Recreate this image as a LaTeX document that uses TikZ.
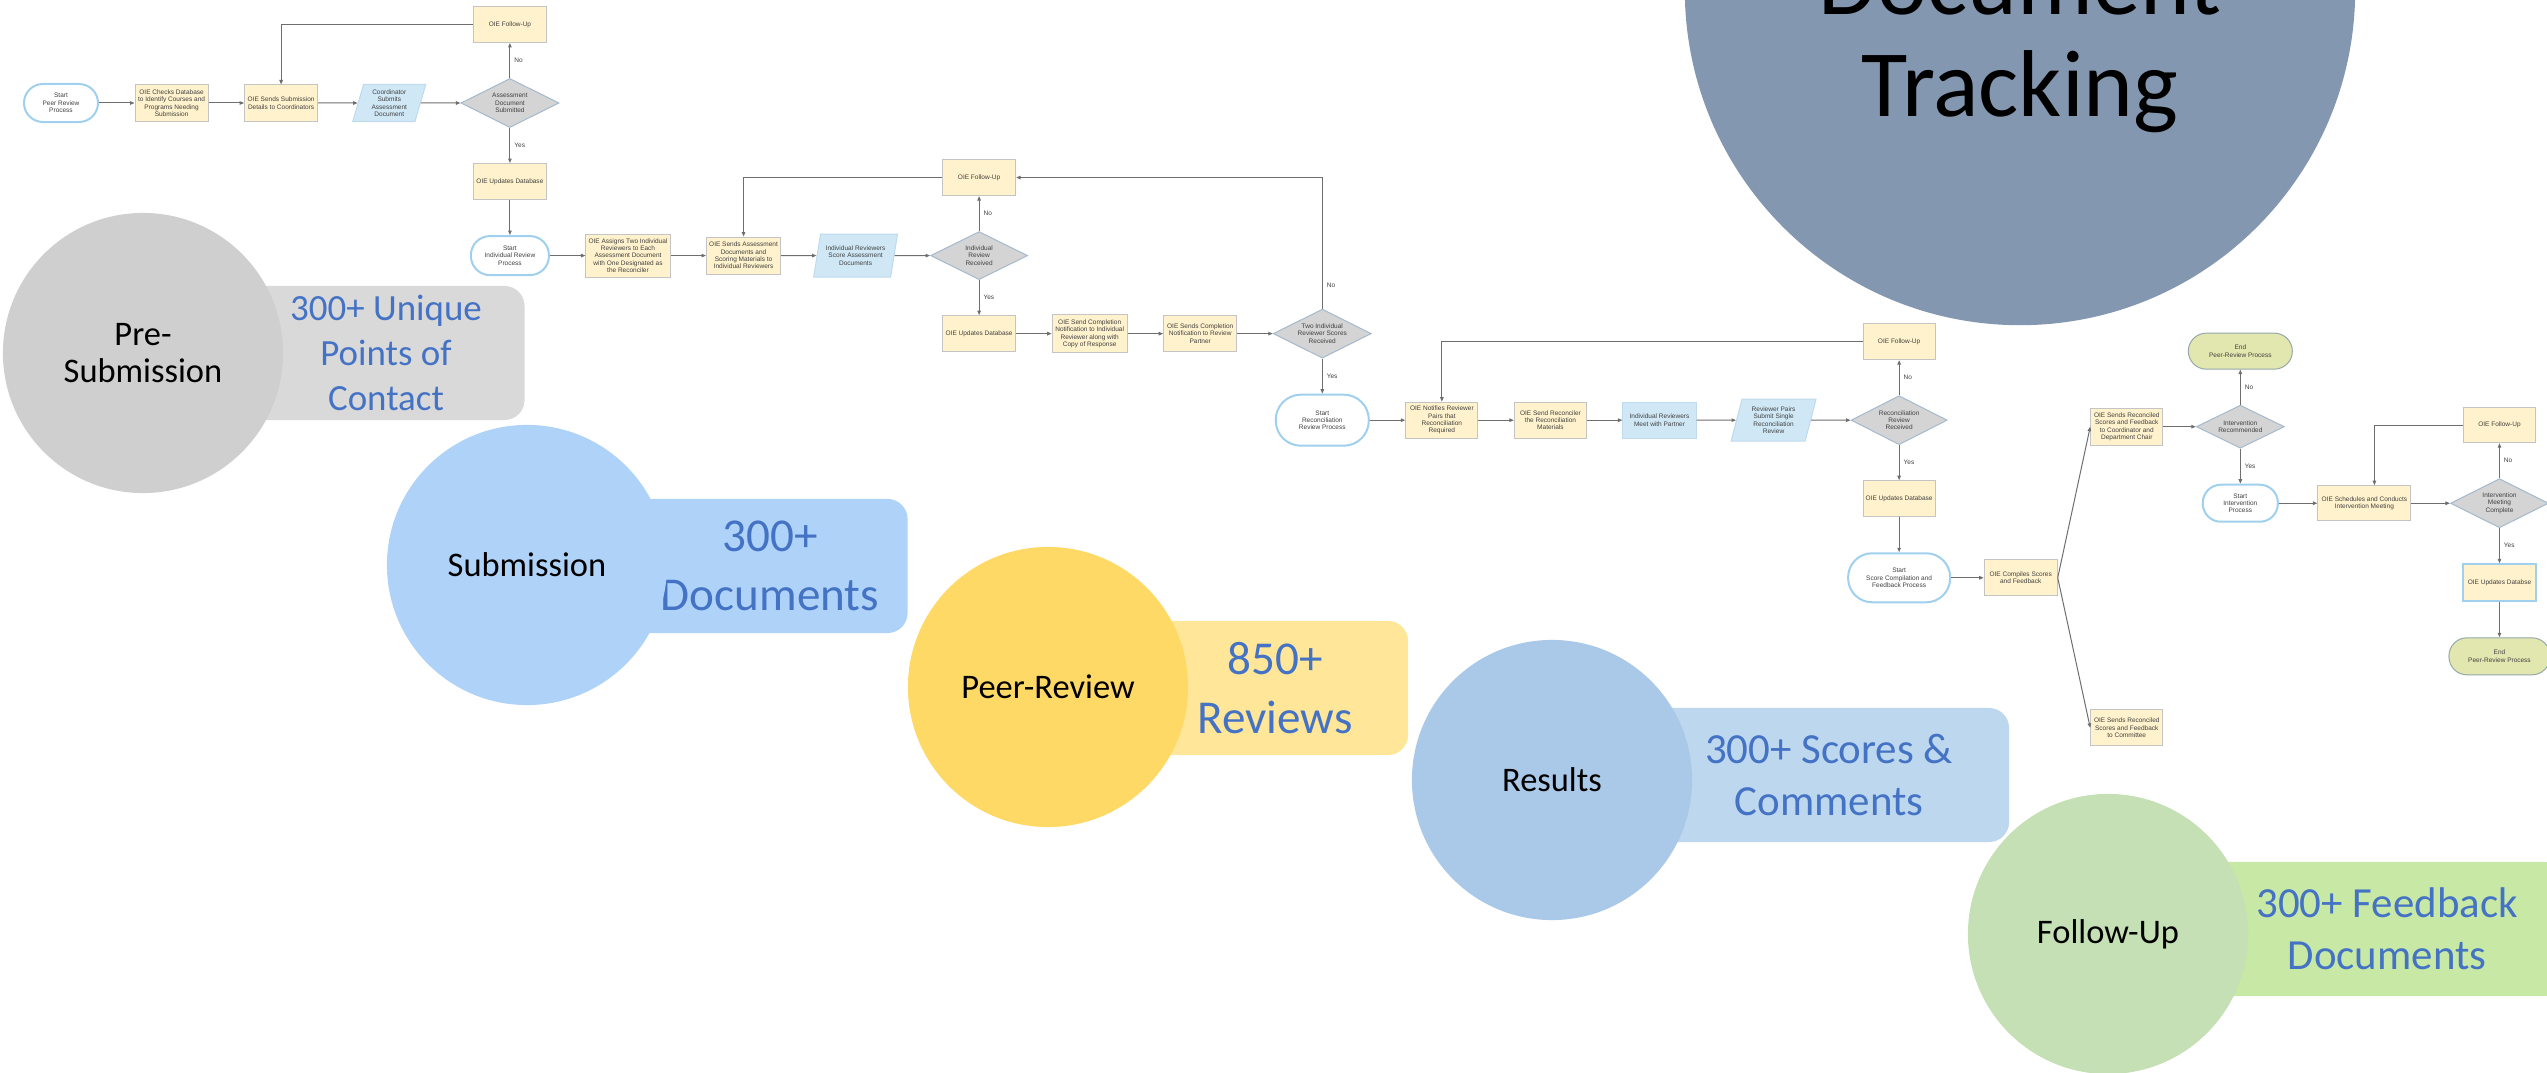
\documentclass[tikz,border=0pt]{standalone}
\usepackage{fontspec}
\setmainfont{Carlito}
\newfontfamily\flowfont{Liberation Sans}
\usetikzlibrary{positioning,arrows.meta,shapes.geometric}

\definecolor{procfill}{RGB}{255,242,204}
\definecolor{procline}{RGB}{196,196,196}
\definecolor{iofill}{RGB}{208,232,246}
\definecolor{ioline}{RGB}{190,218,236}
\definecolor{decfill}{RGB}{212,212,212}
\definecolor{decline}{RGB}{165,185,205}
\definecolor{startline}{RGB}{160,208,238}
\definecolor{endfill}{RGB}{226,231,175}
\definecolor{endline}{RGB}{150,168,170}
\definecolor{flowline}{RGB}{110,110,110}
\definecolor{flowtext}{RGB}{64,64,64}
\definecolor{statblue}{RGB}{68,114,196}
\definecolor{tracking}{RGB}{132,151,176}
\definecolor{presubfill}{RGB}{207,207,207}
\definecolor{presubbar}{RGB}{217,217,217}
\definecolor{subfill}{RGB}{174,210,248}
\definecolor{subbar}{RGB}{174,210,248}
\definecolor{peerfill}{RGB}{255,217,102}
\definecolor{peerbar}{RGB}{255,230,153}
\definecolor{resfill}{RGB}{170,201,232}
\definecolor{resbar}{RGB}{189,215,238}
\definecolor{fupfill}{RGB}{197,224,180}
\definecolor{fupbar}{RGB}{200,232,165}

\newcommand{\flowsize}{\flowfont\fontsize{1.85pt}{2.1pt}\selectfont}
\newcommand{\phasesize}{\fontsize{9.8pt}{10.5pt}\selectfont}
\newcommand{\statsmall}{\fontsize{10.5pt}{12.8pt}\selectfont}
\newcommand{\statmid}{\fontsize{12.2pt}{14.8pt}\selectfont}
\newcommand{\statlarge}{\fontsize{13.4pt}{16.8pt}\selectfont}
\newcommand{\trackingsize}{\fontsize{27pt}{29pt}\selectfont}

\begin{document}
\begin{tikzpicture}[
    x=0.01cm, y=-0.01cm,
    node distance=0.35cm and 0.355cm,
    base/.style={align=center, font=\flowsize, text=flowtext, inner sep=0.02cm},
    procbox/.style={base, draw=procline, fill=procfill, line width=0.01cm, minimum width=0.73cm, minimum height=0.36cm},
    iobox/.style={base, trapezium, trapezium left angle=75, trapezium right angle=105, trapezium stretches=true, fill=iofill, draw=ioline, line width=0.01cm, minimum width=0.73cm, minimum height=0.37cm},
    decbox/.style={base, diamond, aspect=2, inner sep=0pt, fill=decfill, draw=decline, line width=0.01cm, minimum width=0.98cm, minimum height=0.49cm},
    startbox/.style={base, rectangle, rounded corners=0.19cm, draw=startline, line width=0.02cm, fill=white, minimum width=0.74cm, minimum height=0.38cm},
    endbox/.style={base, rectangle, rounded corners=0.18cm, draw=endline, fill=endfill, line width=0.01cm, minimum width=1.04cm, minimum height=0.36cm},
    flow/.style={draw=flowline, line width=0.01cm, -{Triangle[length=0.045cm, width=0.035cm]}},
    answer/.style={font=\flowsize, text=flowtext, right=0.04cm, inner sep=0pt},
    phase/.style={circle, inner sep=0pt, minimum size=2.8cm, font=\phasesize, align=center},
    statbar/.style={rectangle, rounded corners=0.2cm, inner sep=0pt, minimum height=1.34cm, text=statblue, align=center}
]
\useasboundingbox (0,0) rectangle (2547,1073);
\clip (0,0) rectangle (2547,1073);

% title bubble
\node[circle, fill=tracking, minimum size=6.7cm, inner sep=0pt] (tracking) at (2020,-10) {};
\node[font=\trackingsize, align=center] (trackingtext) at (2020,43) {Document\\Tracking};

% phase bubbles with counts
\node[statbar, fill=presubbar, minimum width=2.77cm, font=\statsmall] (presubstat) at (386,353) {300+ Unique\\Points of\\Contact};
\node[phase, fill=presubfill] (presub) at (143,353) {Pre-\\Submission};
\node[statbar, fill=subbar, minimum width=2.75cm, font=\statlarge] (substat) at (770,566) {300+\\Documents};
\node[phase, fill=subfill] (sub) at (527,565) {Submission};
\node[statbar, fill=peerbar, minimum width=2.66cm, font=\statlarge] (peerstat) at (1275,688) {850+\\Reviews};
\node[phase, fill=peerfill] (peer) at (1048,687) {Peer-Review};
\node[statbar, fill=resbar, minimum width=3.6cm, font=\statmid] (resstat) at (1829,775) {300+ Scores \&\\Comments};
\node[phase, fill=resfill] (res) at (1552,780) {Results};
\node[statbar, fill=fupbar, minimum width=3.56cm, font=\statmid] (fupstat) at (2387,929) {300+ Feedback\\Documents};
\node[phase, fill=fupfill] (fup) at (2108,934) {Follow-Up};

% submission
\node[startbox] (start1) at (61,103) {Start\\Peer Review\\Process};
\node[procbox, right=of start1] (checkdb) {OIE Checks Database\\to Identify Courses and\\Programs Needing\\Submission};
\node[procbox, right=of checkdb] (sendsub) {OIE Sends Submission\\Details to Coordinators};
\node[iobox, right=0.395cm of sendsub] (coordsub) {Coordinator\\Submits\\Assessment\\Document};
\node[decbox, right=0.395cm of coordsub] (docsub) {Assessment\\Document\\Submitted};
\node[procbox, above=of docsub] (follow1) {OIE Follow-Up};
\node[procbox, below=of docsub] (update1) {OIE Updates Database};

% individual review
\node[startbox, below=of update1, minimum width=0.78cm, minimum height=0.39cm] (start2) {Start\\Individual Review\\Process};
\node[procbox, right=of start2, minimum width=0.84cm, minimum height=0.43cm] (assign) {OIE Assigns Two Individual\\Reviewers to Each\\Assessment Document\\with One Designated as\\the Reconciler};
\node[procbox, right=of assign, minimum width=0.74cm, minimum height=0.37cm] (sendmat) {OIE Sends Assessment\\Documents and\\Scoring Materials to\\Individual Reviewers};
\node[iobox, right=of sendmat, minimum width=0.84cm, minimum height=0.43cm] (scoredoc) {Individual Reviewers\\Score Assessment\\Documents};
\node[decbox, right=of scoredoc, minimum width=0.97cm, minimum height=0.48cm] (indrev) {Individual\\Review\\Received};
\node[procbox, above=of indrev] (follow2) {OIE Follow-Up};
\node[procbox, below=of indrev] (update2) {OIE Updates Database};
\node[procbox, right=of update2, minimum width=0.75cm, minimum height=0.38cm] (notify1) {OIE Send Completion\\Notification to Individual\\Reviewer along with\\Copy of Response};
\node[procbox, right=of notify1] (notify2) {OIE Sends Completion\\Notification to Review\\Partner};
\node[decbox, right=of notify2] (tworev) {Two Individual\\Reviewer Scores\\Received};

% reconciliation
\node[startbox, below=of tworev, minimum width=0.93cm, minimum height=0.51cm, rounded corners=0.25cm] (start3) {Start\\Reconciliation\\Review Process};
\node[procbox, right=of start3, minimum width=0.72cm] (pairs) {OIE Notifies Reviewer\\Pairs that\\Reconciliation\\Required};
\node[procbox, right=of pairs, minimum width=0.72cm] (sendrec) {OIE Send Reconciler\\the Reconciliation\\Materials};
\node[procbox, right=of sendrec, fill=iofill, draw=ioline, minimum width=0.73cm] (meet) {Individual Reviewers\\Meet with Partner};
\node[iobox, right=0.395cm of meet, minimum width=0.85cm, minimum height=0.42cm] (single) {Reviewer Pairs\\Submit Single\\Reconciliation\\Review};
\node[decbox, right=0.395cm of single, minimum width=0.96cm] (recrev) {Reconciliation\\Review\\Received};
\node[procbox, above=of recrev, minimum width=0.72cm] (follow3) {OIE Follow-Up};
\node[procbox, below=of recrev, minimum width=0.72cm] (update3) {OIE Updates Database};

% results
\node[startbox, below=of update3, minimum width=1.02cm, minimum height=0.49cm, rounded corners=0.24cm] (start4) {Start\\Score Compilation and\\Feedback Process};
\node[procbox, right=0.325cm of start4] (compile) {OIE Compiles Scores\\and Feedback};
\node[procbox, right=0.325cm of compile, yshift=1.51cm, minimum width=0.72cm, minimum height=0.37cm] (chair) {OIE Sends Reconciled\\Scores and Feedback\\to Coordinator and\\Department Chair};
\node[procbox, right=0.325cm of compile, yshift=-1.5cm, minimum width=0.72cm] (committee) {OIE Sends Reconciled\\Scores and Feedback\\to Committee};

% follow-up
\node[decbox, right=0.325cm of chair, minimum width=0.88cm, minimum height=0.43cm] (intrec) {Intervention\\Recommended};
\node[endbox, above=of intrec] (end1) {End\\Peer-Review Process};
\node[startbox, below=of intrec, minimum width=0.75cm, minimum height=0.37cm, rounded corners=0.18cm] (start5) {Start\\Intervention\\Process};
\node[procbox, right=0.385cm of start5, minimum width=0.93cm, minimum height=0.35cm] (meeting) {OIE Schedules and Conducts\\Intervention Meeting};
\node[decbox, right=0.385cm of meeting] (meetdone) {Intervention\\Meeting\\Complete};
\node[procbox, above=of meetdone, minimum width=0.72cm, minimum height=0.35cm] (follow4) {OIE Follow-Up};
\node[procbox, below=of meetdone, draw=startline, line width=0.02cm, minimum height=0.37cm] (update4) {OIE Updates Databse};
\node[endbox, below=of update4, minimum width=1.01cm, minimum height=0.37cm] (end2) {End\\Peer-Review Process};

\draw[flow] (start1) -- (checkdb);
\draw[flow] (checkdb) -- (sendsub);
\draw[flow] (sendsub) -- (coordsub);
\draw[flow] (coordsub) -- (docsub);
\draw[flow] (docsub) -- node[answer] {No} (follow1);
\draw[flow] (follow1) -| (sendsub);
\draw[flow] (docsub) -- node[answer] {Yes} (update1);
\draw[flow] (update1) -- (start2);

\draw[flow] (start2) -- (assign);
\draw[flow] (assign) -- (sendmat);
\draw[flow] (sendmat) -- (scoredoc);
\draw[flow] (scoredoc) -- (indrev);
\draw[flow] (indrev) -- node[answer] {No} (follow2);
\draw[flow] (follow2) -| (sendmat);
\draw[flow] (indrev) -- node[answer] {Yes} (update2);
\draw[flow] (update2) -- (notify1);
\draw[flow] (notify1) -- (notify2);
\draw[flow] (notify2) -- (tworev);
\draw[flow] (tworev) |- node[answer, pos=0.09] {No} (follow2);
\draw[flow] (tworev) -- node[answer] {Yes} (start3);

\draw[flow] (start3) -- (pairs);
\draw[flow] (pairs) -- (sendrec);
\draw[flow] (sendrec) -- (meet);
\draw[flow] (meet) -- (single);
\draw[flow] (single) -- (recrev);
\draw[flow] (recrev) -- node[answer] {No} (follow3);
\draw[flow] (follow3) -| (pairs);
\draw[flow] (recrev) -- node[answer] {Yes} (update3);
\draw[flow] (update3) -- (start4);

\draw[flow] (start4) -- (compile);
\draw[flow] (compile.east) -- (chair.west);
\draw[flow] (compile.east) -- (committee.west);

\draw[flow] (chair) -- (intrec);
\draw[flow] (intrec) -- node[answer] {No} (end1);
\draw[flow] (intrec) -- node[answer] {Yes} (start5);
\draw[flow] (start5) -- (meeting);
\draw[flow] (meeting) -- (meetdone);
\draw[flow] (meetdone) -- node[answer] {No} (follow4);
\draw[flow] (follow4) -| ([xshift=0.1cm]meeting.north);
\draw[flow] (meetdone) -- node[answer] {Yes} (update4);
\draw[flow] (update4) -- (end2);

\end{tikzpicture}
\end{document}
